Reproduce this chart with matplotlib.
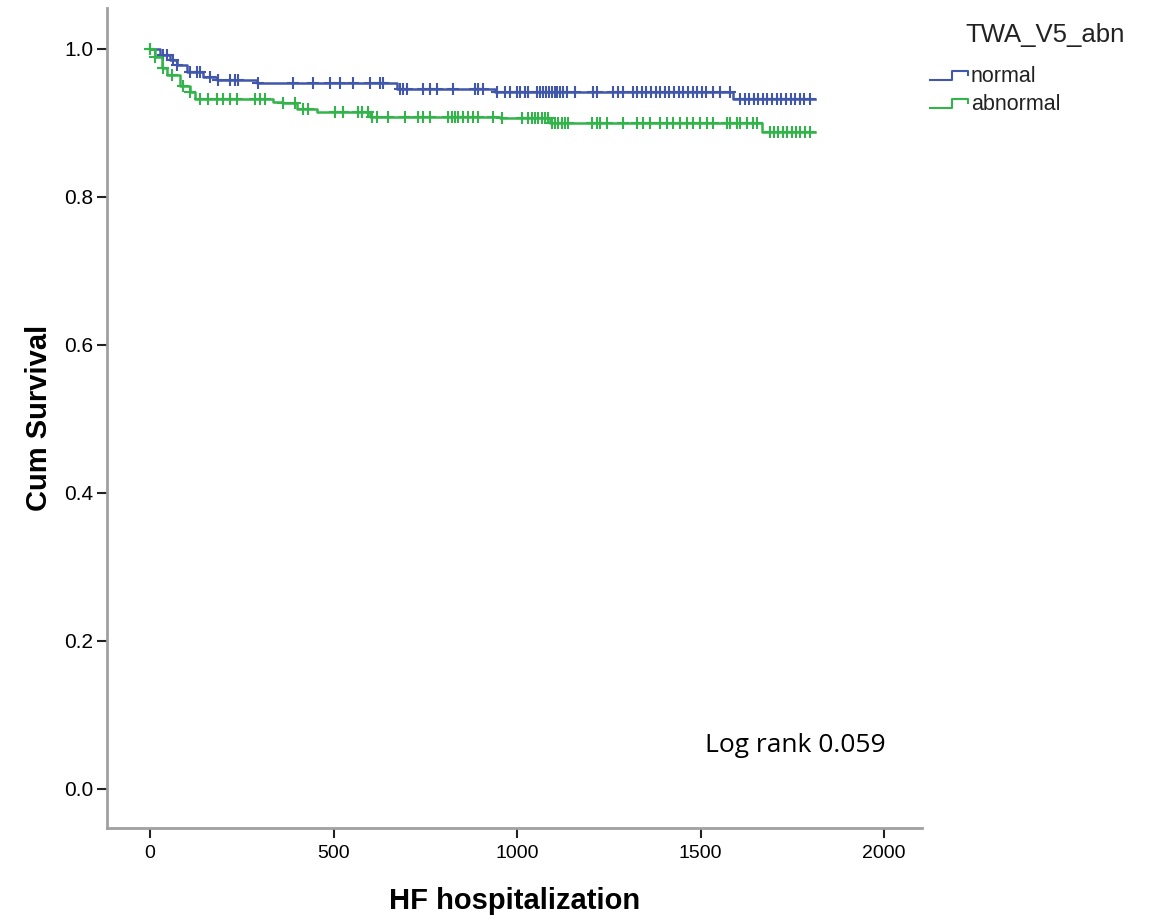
import numpy as np
import matplotlib.pyplot as plt
from matplotlib.lines import Line2D

# --- Kaplan-Meier step data (days, cumulative survival) ---
normal_times = [0, 27, 54, 74, 101, 117, 144, 183, 292, 673, 940, 1589]
normal_surv = [1.000, 0.992, 0.985, 0.978, 0.969, 0.968, 0.962, 0.958, 0.953, 0.946, 0.941, 0.932]
normal_end = 1812

abnormal_times = [0, 14, 33, 46, 82, 109, 123, 335, 362, 401, 455, 600, 954, 1090, 1668]
abnormal_surv = [1.000, 0.989, 0.974, 0.965, 0.949, 0.941, 0.932, 0.928, 0.927, 0.918,
                 0.914, 0.908, 0.907, 0.900, 0.888]
abnormal_end = 1812

# censored observations
normal_censor = [0, 35, 46, 63, 74, 109, 128, 136, 164, 185, 218, 232, 240, 294, 390,
                 444, 490, 518, 553, 599, 627, 635, 681, 689, 700, 744, 763, 782, 826,
                 886, 894, 907, 946, 967, 981, 1000, 1008, 1022, 1030, 1054, 1062, 1070,
                 1078, 1086, 1094, 1102, 1110, 1118, 1126, 1136, 1158, 1207, 1218, 1262,
                 1275, 1289, 1316, 1327, 1340, 1352, 1365, 1378, 1390, 1402, 1415, 1428,
                 1440, 1452, 1465, 1478, 1490, 1503, 1515, 1534, 1553, 1580, 1608, 1620,
                 1632, 1645, 1657, 1670, 1682, 1695, 1707, 1720, 1732, 1745, 1757, 1770,
                 1782, 1798]
abnormal_censor = [0, 14, 35, 60, 90, 109, 136, 158, 183, 199, 218, 237, 286, 300, 313,
                   362, 395, 417, 431, 504, 526, 567, 578, 594, 605, 619, 649, 695, 730,
                   744, 763, 812, 823, 831, 839, 853, 866, 880, 894, 935, 959, 1014, 1030,
                   1041, 1049, 1057, 1068, 1076, 1084, 1095, 1104, 1112, 1123, 1131, 1139,
                   1204, 1218, 1226, 1245, 1289, 1327, 1343, 1362, 1390, 1409, 1425, 1444,
                   1463, 1480, 1499, 1518, 1534, 1572, 1580, 1599, 1608, 1627, 1643, 1654,
                   1689, 1700, 1712, 1724, 1736, 1748, 1760, 1772, 1784, 1798]

blue = '#4157ab'
green = '#33b44a'

plt.rcParams['font.family'] = ['Liberation Sans', 'DejaVu Sans']

fig = plt.figure(figsize=(11.58, 9.21), dpi=100)
ax = fig.add_axes([0.0924, 0.1010, 0.7038, 0.8903])


def km_curve(times, surv, end):
    t = np.append(times, end)
    s = np.append(surv, surv[-1])
    return t, s


def surv_at(times, surv, pts):
    idx = np.searchsorted(times, pts, side='right') - 1
    return np.asarray(surv)[idx]


for times, surv, end, cens, col in [
        (normal_times, normal_surv, normal_end, normal_censor, blue),
        (abnormal_times, abnormal_surv, abnormal_end, abnormal_censor, green)]:
    t, s = km_curve(times, surv, end)
    ax.step(t, s, where='post', color=col, lw=1.8)
    ax.plot(cens, surv_at(times, surv, cens), ls='none', marker='+',
            color=col, ms=9, mew=1.5)

ax.set_xlim(-117, 2103)
ax.set_ylim(-0.053, 1.055)
ax.set_xticks([0, 500, 1000, 1500, 2000])
ax.set_yticks([0.0, 0.2, 0.4, 0.6, 0.8, 1.0])
ax.set_yticklabels(['0.0', '0.2', '0.4', '0.6', '0.8', '1.0'])
ax.tick_params(direction='out', length=7, width=1.5, color='#222222', pad=3)
ax.tick_params(axis='y', labelsize=15)
ax.tick_params(axis='x', labelsize=14, pad=5)

for side in ['top', 'right']:
    ax.spines[side].set_visible(False)
for side in ['left', 'bottom']:
    ax.spines[side].set_color('#a0a0a0')
    ax.spines[side].set_linewidth(2)

ax.set_xlabel('HF hospitalization', fontsize=21, fontweight='bold', labelpad=18)
ax.set_ylabel('Cum Survival', fontsize=21, fontweight='bold', labelpad=8)

ax.text(0.845, 0.101, 'Log rank 0.059', transform=ax.transAxes,
        fontsize=19, family=['Open Sans', 'DejaVu Sans'], ha='center', va='center')

# legend with step-shaped handles
H = 921.0
fig.text(965 / 1158, 1 - 35 / H, 'TWA_V5_abn', fontsize=18.5, va='center', ha='left',
         color='#222222')
for y, lab, col in [(76, 'normal', blue), (104, 'abnormal', green)]:
    xs = np.array([930, 952, 952, 968, 968]) / 1158
    ys = 1 - np.array([y + 4, y + 4, y - 5, y - 5, y - 1]) / H
    fig.add_artist(Line2D(xs, ys, transform=fig.transFigure, color=col, lw=1.5))
    fig.text(971 / 1158, 1 - y / H, lab, fontsize=15.5, va='center', ha='left',
             color='#222222')

fig.savefig('out.png', dpi=100)
